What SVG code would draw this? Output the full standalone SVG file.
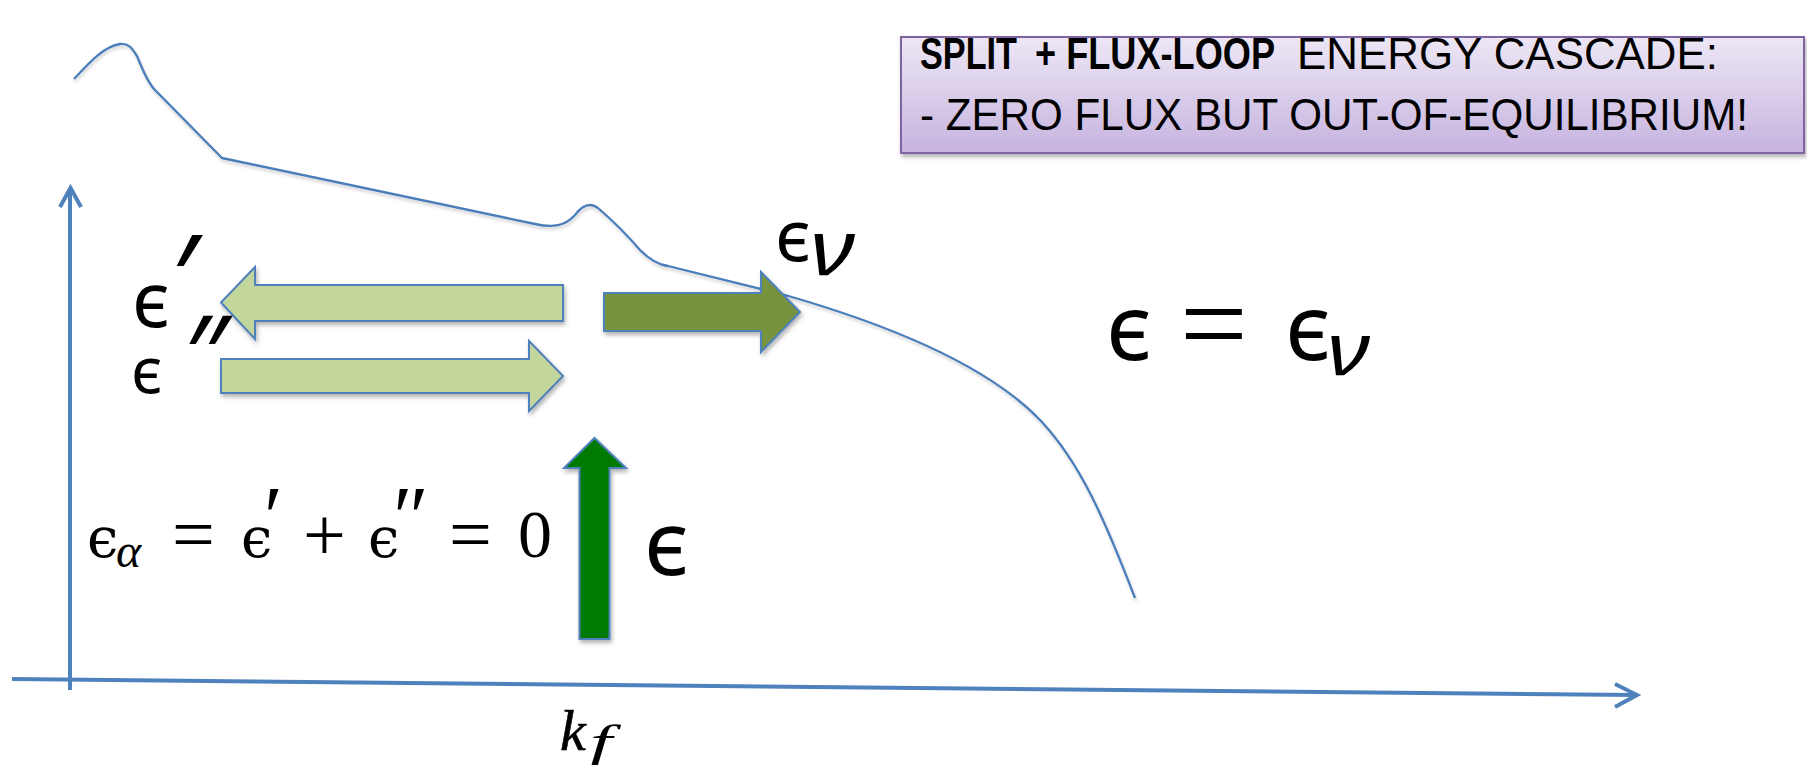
<svg xmlns="http://www.w3.org/2000/svg" width="1807" height="765" viewBox="0 0 1807 765">
<defs>
<linearGradient id="boxGrad" x1="0" y1="0" x2="0" y2="1">
<stop offset="0" stop-color="#ede7f5"/>
<stop offset="1" stop-color="#c6b3df"/>
</linearGradient>
<filter id="shadow" x="-10%" y="-10%" width="130%" height="140%">
<feDropShadow dx="1.5" dy="3" stdDeviation="2" flood-color="#000" flood-opacity="0.3"/>
</filter>
<filter id="lineShadow" x="-5%" y="-5%" width="110%" height="115%">
<feDropShadow dx="1" dy="2.5" stdDeviation="1.5" flood-color="#000" flood-opacity="0.2"/>
</filter>
</defs>
<style>
.axis{fill:none;stroke:#4f81bd;stroke-width:4;stroke-linecap:butt;stroke-linejoin:miter}
.curve{fill:none;stroke:#4a7ebb;stroke-width:2.3;stroke-linejoin:round}
.arrow{stroke:#4f81bd;stroke-width:2;stroke-linejoin:miter}
.light{fill:#c3d69b}
.olive{fill:#77933c}
.green{fill:#007a00}
.boxtxt{font-family:"Liberation Sans",Arial,sans-serif;font-size:45px;fill:#000}
.math{font-family:"Liberation Serif","DejaVu Serif",serif;fill:#000}
.eps{font-family:"DejaVu Serif","Liberation Serif",serif;fill:#000}
.sans{font-family:"Noto Sans","DejaVu Sans",sans-serif;fill:#000}
.it{font-style:italic}
</style>
<rect width="1807" height="765" fill="#fff"/>

<g id="title-box">
<rect x="901" y="37" width="903" height="116" fill="url(#boxGrad)" stroke="#8064a2" stroke-width="2" filter="url(#shadow)"/>
<text class="boxtxt" x="920" y="69" font-weight="bold" textLength="97" lengthAdjust="spacingAndGlyphs">SPLIT</text>
<text class="boxtxt" x="1035" y="69" font-weight="bold" textLength="240" lengthAdjust="spacingAndGlyphs">+ FLUX-LOOP</text>
<text class="boxtxt" x="1297" y="69" textLength="421" lengthAdjust="spacingAndGlyphs">ENERGY CASCADE:</text>
<text class="boxtxt" x="920" y="130" textLength="828" lengthAdjust="spacingAndGlyphs">- ZERO FLUX BUT OUT-OF-EQUILIBRIUM!</text>
</g>

<g id="connectors">
<g id="y-axis">
<line class="axis" x1="70" y1="690" x2="70" y2="189"/>
<polyline class="axis" points="60,207 70.5,188 81,207"/>
</g>
<g id="x-axis">
<line class="axis" x1="12" y1="679" x2="1635" y2="695"/>
<polyline class="axis" points="1615,684 1637,695 1615,707"/>
</g>
</g>

<g id="spectrum-curve" filter="url(#lineShadow)">
<path class="curve" d="M74,79 C88,64 104,46 120,44 C130,43 133,50 137,56 C142,68 147,82 155,90 L222,158 L535,224 C553,228 565,226 575,215 C582,206 590,202 598,208 C612,220 628,236 640,250 C650,260 658,265 668,266 L785,295 C900,328 990,368 1040,420 C1080,462 1105,520 1135,598"/>
</g>

<g id="arrow-eps-prime" filter="url(#shadow)">
<polygon class="arrow light" points="221,302.5 255,267 255,285 563,285 563,321 255,321 255,339"/>
</g>
<g id="arrow-eps-double-prime" filter="url(#shadow)">
<polygon class="arrow light" points="221,359 529,359 529,341 563,376 529,411 529,393 221,393"/>
</g>
<g id="arrow-eps-nu" filter="url(#shadow)">
<polygon class="arrow olive" points="604,293 761,293 761,272 800,312 761,352 761,331 604,331"/>
</g>
<g id="arrow-eps-input" filter="url(#shadow)">
<polygon class="arrow green" points="594.5,438 626,468 609.5,468 609.5,639 579.5,639 579.5,468 564,468"/>
</g>

<g id="label-eps-prime">
<text class="sans" x="132" y="327" font-size="76">ϵ</text>
<text class="sans" x="172" y="321" font-size="120">′</text>
</g>
<g id="label-eps-double-prime">
<text class="sans" x="131" y="393" font-size="63">ϵ</text>
<text class="sans" x="185" y="394" font-size="110">″</text>
</g>
<g id="label-eps-nu">
<text class="sans" x="775" y="261" font-size="72">ϵ</text>
<text class="sans it" x="810" y="275" font-size="76" textLength="45" lengthAdjust="spacingAndGlyphs">ν</text>
</g>
<g id="label-equilibrium">
<text class="sans" x="1106" y="360" font-size="92">ϵ</text>
<text class="math" x="1180" y="364" font-size="120">=</text>
<text class="sans" x="1285" y="360" font-size="92">ϵ</text>
<text class="sans it" x="1327" y="375" font-size="74" textLength="43" lengthAdjust="spacingAndGlyphs">ν</text>
</g>
<g id="label-eps-input">
<text class="sans" x="644" y="575" font-size="90">ϵ</text>
</g>
<g id="label-sum">
<text class="eps" x="87" y="557" font-size="56">ϵ</text>
<text class="math it" x="116" y="567" font-size="48">α</text>
<text class="math" x="172" y="560" font-size="76">=</text>
<text class="eps" x="241" y="557" font-size="56">ϵ</text>
<text class="math" x="264" y="546" font-size="86">′</text>
<text class="math" x="303" y="560" font-size="76">+</text>
<text class="eps" x="368" y="557" font-size="56">ϵ</text>
<text class="math" x="393" y="546" font-size="86">″</text>
<text class="math" x="449" y="560" font-size="76">=</text>
<text class="math" x="518" y="557" font-size="68">0</text>
</g>
<g id="label-kf">
<text class="math it" x="560" y="750" font-size="58" stroke="#000" stroke-width="0.6">k</text>
<text class="math it" x="590" y="757" font-size="46" textLength="22" lengthAdjust="spacingAndGlyphs">f</text>
</g>
</svg>
